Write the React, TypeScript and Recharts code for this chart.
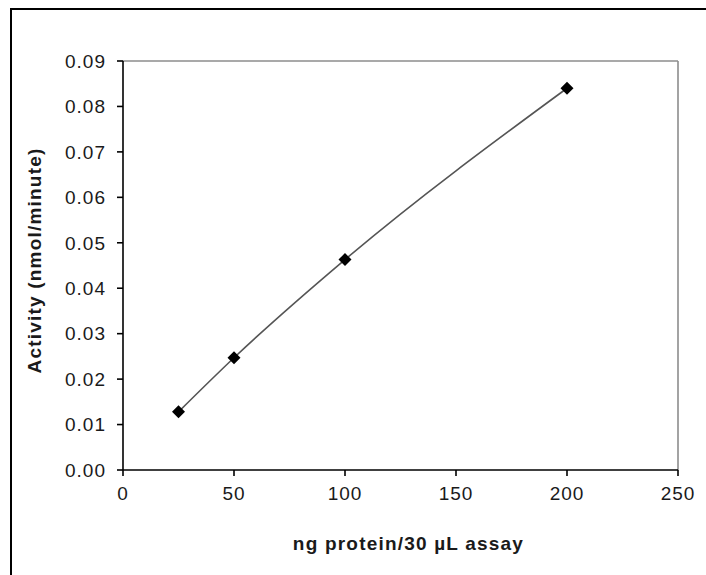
import React from "react";
import { LineChart, Line, XAxis, YAxis, ReferenceLine } from "recharts";

const proteinNg = [25, 50, 100, 200];
const activity = [0.0128, 0.0247, 0.0463, 0.084];
const xTicks = [0, 50, 100, 150, 200, 250];
const yTicks = [0, 0.01, 0.02, 0.03, 0.04, 0.05, 0.06, 0.07, 0.08, 0.09];

const data = proteinNg.map((x, i) => ({ x, y: activity[i] }));

const FONT = "'Liberation Sans', Arial, sans-serif";

const Diamond = (props: any) => {
  const { cx, cy } = props;
  if (cx == null || cy == null) return null;
  const r = 6.5;
  return (
    <path
      d={`M${cx},${cy - r} L${cx + r},${cy} L${cx},${cy + r} L${cx - r},${cy} Z`}
      fill="#000"
      stroke="none"
    />
  );
};

const tickStyle = { fontSize: 19, fill: "#1a1a1a", fontFamily: FONT, letterSpacing: 1.0 };

export default function App() {
  return (
    <div style={{ position: "relative", width: 706, height: 575, overflow: "hidden", background: "#fff" }}>
      <style>{"body{margin:0}"}</style>
      <div
        style={{
          position: "absolute",
          left: 10,
          top: 8,
          width: 720,
          height: 600,
          borderLeft: "2px solid #000",
          borderTop: "2px solid #000",
          boxSizing: "border-box",
        }}
      />
      <div style={{ position: "absolute", left: 0, top: 0 }}>
        <LineChart width={706} height={575} data={data} margin={{ top: 61, right: 28, bottom: 0, left: 0 }}>
          <XAxis
            type="number"
            dataKey="x"
            domain={[0, 250]}
            ticks={xTicks}
            height={105}
            axisLine={{ stroke: "#000", strokeWidth: 1.6 }}
            tickLine={{ stroke: "#000", strokeWidth: 1.6 }}
            tickSize={6}
            tickMargin={11}
            tick={tickStyle}
            label={{
              content: (p: any) => {
                const vb = p.viewBox || {};
                return (
                  <text
                    x={vb.x + vb.width / 2 + 8}
                    y={550}
                    textAnchor="middle"
                    fontFamily={FONT}
                    fontWeight="bold"
                    fontSize={19}
                    letterSpacing={1.2}
                    fill="#1a1a1a"
                  >
                    ng protein/30 µL assay
                  </text>
                );
              },
            }}
          />
          <YAxis
            type="number"
            dataKey="y"
            domain={[0, 0.09]}
            ticks={yTicks}
            width={123}
            axisLine={{ stroke: "#000", strokeWidth: 1.6 }}
            tickLine={{ stroke: "#000", strokeWidth: 1.6 }}
            tickSize={6}
            tickMargin={11}
            tick={tickStyle}
            tickFormatter={(v: number) => v.toFixed(2)}
            label={{
              content: (p: any) => {
                const vb = p.viewBox || {};
                const cy = vb.y + vb.height / 2 - 5;
                const cx = 41;
                return (
                  <text
                    x={cx}
                    y={cy}
                    transform={`rotate(-90, ${cx}, ${cy})`}
                    textAnchor="middle"
                    fontFamily={FONT}
                    fontWeight="bold"
                    fontSize={19}
                    letterSpacing={1.2}
                    fill="#1a1a1a"
                  >
                    Activity (nmol/minute)
                  </text>
                );
              },
            }}
          />
          <ReferenceLine y={0.09} stroke="#8c8c8c" strokeWidth={1.6} />
          <ReferenceLine x={250} stroke="#8c8c8c" strokeWidth={1.6} />
          <Line
            type="monotone"
            dataKey="y"
            stroke="#555"
            strokeWidth={1.6}
            dot={<Diamond />}
            activeDot={false}
            isAnimationActive={false}
          />
        </LineChart>
      </div>
    </div>
  );
}
